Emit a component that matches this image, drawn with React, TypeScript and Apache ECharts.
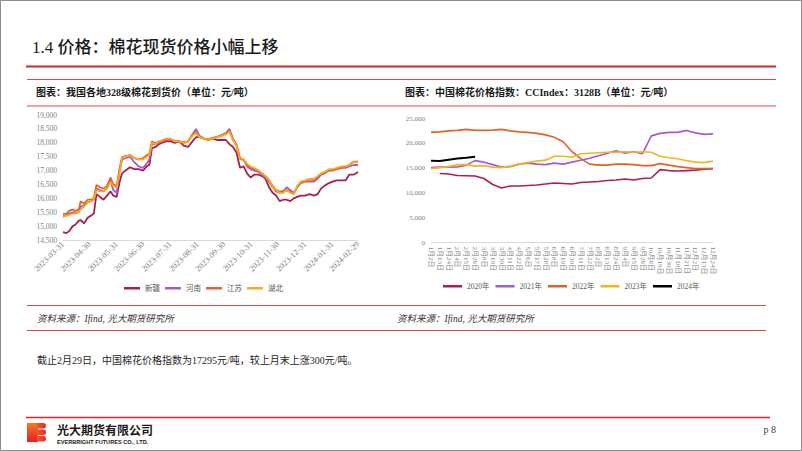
import React, { useEffect, useRef } from "react";
import * as echarts from "echarts";

// ---------- Left chart: 328 grade cotton spot prices (元/吨) ----------
const leftSeriesNames = ["新疆", "河南", "江苏", "湖北"];
const leftAxisStart = "2023-03-31";
const leftAxisEnd = "2024-02-29";
const leftSampleDates = [
  "2023-03-31", "2023-04-04", "2023-04-07", "2023-04-11", "2023-04-14", "2023-04-18", "2023-04-20", "2023-04-24",
  "2023-04-28", "2023-05-02", "2023-05-05", "2023-05-08", "2023-05-12", "2023-05-16", "2023-05-20", "2023-05-24",
  "2023-05-27", "2023-05-31", "2023-06-03", "2023-06-06", "2023-06-10", "2023-06-15", "2023-06-20", "2023-06-25",
  "2023-06-30", "2023-07-04", "2023-07-07", "2023-07-10", "2023-07-14", "2023-07-18", "2023-07-22", "2023-07-26",
  "2023-07-31", "2023-08-05", "2023-08-10", "2023-08-15", "2023-08-20", "2023-08-25", "2023-08-29", "2023-09-02",
  "2023-09-07", "2023-09-12", "2023-09-17", "2023-09-22", "2023-09-27", "2023-10-02", "2023-10-06", "2023-10-10",
  "2023-10-14", "2023-10-18", "2023-10-22", "2023-10-26", "2023-10-30", "2023-11-03", "2023-11-08", "2023-11-12",
  "2023-11-16", "2023-11-20", "2023-11-24", "2023-11-28", "2023-12-02", "2023-12-06", "2023-12-10", "2023-12-14",
  "2023-12-18", "2023-12-22", "2023-12-26", "2023-12-31", "2024-01-05", "2024-01-10", "2024-01-14", "2024-01-18",
  "2024-01-22", "2024-01-27", "2024-01-31", "2024-02-05", "2024-02-10", "2024-02-15", "2024-02-19", "2024-02-24",
  "2024-02-29",
];
const xinjiang = [
  14780, 14750, 14820, 15000, 15050, 15200, 15220, 15100, 15300, 15380, 15450, 16150, 16050, 15950, 16100, 16250,
  16100, 16050, 16550, 16900, 17000, 17120, 17050, 17050, 17000, 17150, 17200, 17800, 17850, 17950, 18000, 18050,
  18050, 18000, 18050, 17900, 17850, 18050, 18200, 18200, 18150, 18100, 18150, 18100, 18100, 18100, 17950, 17850,
  17650, 17100, 17150, 16900, 16750, 16850, 16850, 16800, 16700, 16400, 16200, 16100, 15900, 15950, 15950, 15900,
  16000, 16050, 16100, 16100, 16150, 16100, 16150, 16350, 16450, 16550, 16600, 16650, 16650, 16650, 16850, 16850,
  16950,
];
const henan = [
  15350, 15400, 15450, 15500, 15480, 15500, 15700, 15750, 15850, 15900, 15950, 16350, 16300, 16250, 16350, 16650,
  16300, 16200, 16950, 17400, 17450, 17500, 17300, 17150, 17100, 17250, 17400, 17950, 17950, 18000, 18050, 18100,
  18100, 18050, 18050, 18000, 18050, 18300, 18500, 18250, 18150, 18100, 18150, 18200, 18250, 18350, 18500, 18150,
  17950, 17450, 17400, 17150, 17050, 17000, 16950, 16850, 16750, 16600, 16400, 16250, 16200, 16250, 16400, 16300,
  16200, 16400, 16550, 16600, 16600, 16600, 16700, 16850, 16900, 17000, 17000, 17050, 17100, 17100, 17150, 17200,
  17200,
];
const jiangsu = [
  15430, 15450, 15550, 15600, 15550, 15600, 15900, 15800, 15950, 15950, 16000, 16480, 16400, 16350, 16450, 16750,
  16500, 16450, 17050, 17480, 17520, 17560, 17450, 17400, 17450, 17550, 17600, 18050, 17980, 18050, 18080, 18120,
  18120, 18080, 18050, 18020, 18050, 18300, 18400, 18200, 18150, 18120, 18180, 18220, 18280, 18350, 18420, 18100,
  17900, 17420, 17380, 17200, 17100, 17050, 17000, 16900, 16800, 16650, 16450, 16300, 16250, 16250, 16300, 16250,
  16150, 16420, 16580, 16620, 16680, 16650, 16750, 16880, 16920, 17020, 17020, 17060, 17100, 17150, 17200, 17320,
  17320,
];
const hubei = [
  15330, 15380, 15400, 15450, 15450, 15500, 15600, 15700, 15850, 15900, 15950, 16300, 16250, 16250, 16350, 16600,
  16450, 16400, 16900, 17450, 17500, 17550, 17450, 17400, 17400, 17500, 17550, 18000, 17950, 18050, 18100, 18150,
  18150, 18050, 18050, 18000, 18050, 18250, 18350, 18200, 18150, 18100, 18150, 18200, 18250, 18300, 18400, 18100,
  17900, 17450, 17400, 17250, 17150, 17100, 17000, 16900, 16800, 16650, 16400, 16300, 16200, 16200, 16300, 16200,
  16150, 16450, 16600, 16650, 16700, 16700, 16800, 16900, 16950, 17050, 17050, 17100, 17150, 17150, 17200, 17300,
  17300,
];
const leftYMin = 14500;
const leftYMax = 19000;
const leftYInterval = 500;

// ---------- Right chart: CCIndex 3128B by year (元/吨) ----------
const rightCategories = [
  "1月2日", "1月13日", "1月24日", "2月4日", "2月15日", "2月26日", "3月8日", "3月19日", "3月30日", "4月11日",
  "4月22日", "5月6日", "5月17日", "5月28日", "6月8日", "6月19日", "6月30日", "7月11日", "7月22日", "8月2日",
  "8月13日", "8月24日", "9月4日", "9月15日", "9月26日", "10月8日", "10月19日", "10月30日", "11月10日", "11月21日",
  "12月2日", "12月13日", "12月24日",
];
const rightSeriesNames = ["2020年", "2021年", "2022年", "2023年", "2024年"];
const y2020 = [
  null, 13900, 13800, 13500, 13450, 13400, 12900, 11700, 11000, 11400, 11400, 11500, 11600, 11800, 12000, 11900,
  11800, 12100, 12200, 12300, 12500, 12600, 12800, 12600, 12900, 13000, 14700, 14500, 14400, 14500, 14600, 14800,
  14900,
];
const y2021 = [
  15100, 15200, 15200, 15250, 15600, 16500, 16200, 15700, 15200, 15300, 15800, 16000, 15800, 15700, 16000, 15800,
  16200, 16600, 17000, 17500, 18000, 18500, 18000, 18300, 17900, 21500, 22000, 22200, 22200, 22600, 22100, 21800,
  21900,
];
const y2022 = [
  22200, 22300, 22500, 22600, 22800, 22600, 22600, 22650, 22800, 22500, 22300, 22200, 22000, 21700, 21200, 20300,
  18300, 16900, 15800, 15600, 15600, 15800, 15800, 15700, 15500, 15500, 15900, 15600, 15300, 15100, 14900, 14900,
  14900,
];
const y2023 = [
  14900, 15100, 15300, 15700, 15700, 15400, 15500, 15200, 15100, 15400, 15800, 16100, 16400, 16600, 17400, 17400,
  17200, 17900, 18000, 18100, 18200, 18200, 18300, 18200, 18300, 18200, 17400, 17100, 16900, 16500, 16200, 16100,
  16400,
];
const y2024 = [16500, 16450, 16700, 16950, 17100, 17300];
const rightYMin = 0;
const rightYMax = 25000;
const rightYInterval = 5000;

const leftColors = ["#A81E4E", "#A45BCB", "#E5622A", "#F5AB1F"];
const rightColors = ["#B01E4F", "#A45BCB", "#E2612A", "#F6B321", "#000000"];

const SERIF = "'Liberation Serif', 'Noto Sans CJK SC', serif";
const CJK = "'Noto Sans CJK SC', sans-serif";
const RED = "#D9262C";
const PINK = "#E0474D";

function buildDays(start: string, end: string): string[] {
  const out: string[] = [];
  const d = new Date(start + "T00:00:00Z");
  const e = new Date(end + "T00:00:00Z");
  while (d.getTime() <= e.getTime()) {
    out.push(d.toISOString().slice(0, 10));
    d.setUTCDate(d.getUTCDate() + 1);
  }
  return out;
}

function isMonthEnd(s: string): boolean {
  const d = new Date(s + "T00:00:00Z");
  const n = new Date(d.getTime() + 86400000);
  return n.getUTCDate() === 1;
}

export default function App() {
  const ref = useRef<HTMLDivElement>(null);
  useEffect(() => {
    if (!ref.current) return;
    const chart = echarts.init(ref.current, undefined, { renderer: "svg" });
    const days = buildDays(leftAxisStart, leftAxisEnd);
    const leftData = [xinjiang, henan, jiangsu, hubei];
    const rightData = [y2020, y2021, y2022, y2023, y2024];

    const hline = (x1: number, x2: number, y: number, color: string, w: number) => ({
      type: "line",
      silent: true,
      shape: { x1, y1: y, x2, y2: y },
      style: { stroke: color, lineWidth: w },
    });
    const txt = (x: number, y: number, text: string, o: any) => ({
      type: "text",
      silent: true,
      x,
      y,
      style: { text, textVerticalAlign: "middle", ...o },
    });

    const option: any = {
      animation: false,
      backgroundColor: "#ffffff",
      grid: [
        { left: 63, right: 802 - 358, top: 115, bottom: 451 - 240, containLabel: false, outerBoundsMode: "none" },
        { left: 431, right: 802 - 713, top: 118.5, bottom: 451 - 242.5, containLabel: false, outerBoundsMode: "none" },
      ],
      legend: [
        {
          data: leftSeriesNames,
          left: 124,
          top: 284.5,
          padding: 0,
          icon: "rect",
          itemWidth: 16,
          itemHeight: 2.5,
          itemGap: 5,
          textStyle: { fontSize: 7.5, color: "#595959", fontFamily: SERIF },
        },
        {
          data: rightSeriesNames,
          left: 443,
          top: 282.5,
          padding: 0,
          icon: "rect",
          itemWidth: 19,
          itemHeight: 2.5,
          itemGap: 6,
          textStyle: { fontSize: 7.5, color: "#595959", fontFamily: SERIF },
        },
      ],
      xAxis: [
        {
          type: "category",
          gridIndex: 0,
          data: days,
          boundaryGap: false,
          axisLine: { lineStyle: { color: "#D9D9D9", width: 1 } },
          axisTick: { show: false },
          axisLabel: {
            interval: (_i: number, v: string) => isMonthEnd(v),
            rotate: 45,
            fontSize: 8.3,
            color: "#7F7F7F",
            fontFamily: SERIF,
            margin: 3,
          },
          splitLine: { show: false },
        },
        {
          type: "category",
          gridIndex: 1,
          data: rightCategories,
          boundaryGap: false,
          axisLine: { lineStyle: { color: "#D9D9D9", width: 1 } },
          axisTick: { show: false },
          axisLabel: {
            interval: 0,
            rotate: -90,
            fontSize: 7,
            color: "#7F7F7F",
            fontFamily: SERIF,
            margin: 4,
          },
          splitLine: { show: false },
        },
      ],
      yAxis: [
        {
          type: "value",
          gridIndex: 0,
          min: leftYMin,
          max: leftYMax,
          interval: leftYInterval,
          axisLine: { show: false },
          axisTick: { show: false },
          splitLine: { show: false },
          axisLabel: {
            fontSize: 7.5,
            color: "#7F7F7F",
            fontFamily: SERIF,
            margin: 6,
            formatter: (v: number) => v.toLocaleString("en-US"),
          },
        },
        {
          type: "value",
          gridIndex: 1,
          min: rightYMin,
          max: rightYMax,
          interval: rightYInterval,
          axisLine: { show: false },
          axisTick: { show: false },
          splitLine: { show: false },
          axisLabel: { fontSize: 7, color: "#7F7F7F", fontFamily: SERIF, margin: 6 },
        },
      ],
      series: [
        ...leftSeriesNames.map((name, k) => ({
          name,
          type: "line",
          xAxisIndex: 0,
          yAxisIndex: 0,
          showSymbol: false,
          symbol: "none",
          data: leftSampleDates.map((d, i) => [d, leftData[k][i]]),
          lineStyle: { color: leftColors[k], width: 1.8 },
          itemStyle: { color: leftColors[k] },
        })),
        ...rightSeriesNames.map((name, k) => ({
          name,
          type: "line",
          xAxisIndex: 1,
          yAxisIndex: 1,
          showSymbol: false,
          symbol: "none",
          data: rightData[k],
          lineStyle: { color: rightColors[k], width: k === 4 ? 2 : 1.6 },
          itemStyle: { color: rightColors[k] },
        })),
      ],
      graphic: [
        {
          type: "rect",
          silent: true,
          shape: { x: 0.5, y: 0.5, width: 801, height: 450 },
          style: { fill: "none", stroke: "#8C8C8C", lineWidth: 1 },
        },
        txt(32, 47, "1.4 价格：棉花现货价格小幅上移", {
          fontSize: 17,
          fontFamily: SERIF,
          fill: "#1A1A1A",
          fontWeight: 500,
        }),
        hline(26, 776, 66.5, RED, 2.2),
        hline(27, 776, 79.5, PINK, 1),
        hline(27, 776, 106, PINK, 1),
        txt(36, 92.5, "图表：我国各地328级棉花到货价（单位：元/吨）", {
          fontSize: 10,
          fontFamily: SERIF,
          fontWeight: "bold",
          fill: "#1A1A1A",
        }),
        txt(405, 92.5, "图表：中国棉花价格指数：CCIndex：3128B（单位：元/吨）", {
          fontSize: 10,
          fontFamily: SERIF,
          fontWeight: "bold",
          fill: "#1A1A1A",
        }),
        hline(27, 766, 305.5, PINK, 1),
        hline(27, 766, 330.5, PINK, 1),
        txt(37, 318.5, "资料来源：Ifind, 光大期货研究所", {
          fontSize: 9.5,
          fontFamily: SERIF,
          fontStyle: "italic",
          fill: "#333333",
        }),
        txt(397, 318.5, "资料来源：Ifind, 光大期货研究所", {
          fontSize: 9.5,
          fontFamily: SERIF,
          fontStyle: "italic",
          fill: "#333333",
        }),
        txt(37, 360, "截止2月29日，中国棉花价格指数为17295元/吨，较上月末上涨300元/吨。", {
          fontSize: 10,
          fontFamily: SERIF,
          fill: "#262626",
        }),
        hline(26, 770, 417.5, RED, 1.5),
        {
          type: "rect",
          silent: true,
          shape: { x: 27, y: 423, width: 11, height: 19 },
          style: {
            fill: new echarts.graphic.LinearGradient(0, 0, 0, 1, [
              { offset: 0, color: "#F47B20" },
              { offset: 1, color: "#E41E26" },
            ]),
          },
        },
        ...[423, 429.5, 436].map((yy) => ({
          type: "rect",
          silent: true,
          shape: { x: 37, y: yy, width: 9, height: 5.5, r: [0, 3, 3, 0] },
          style: {
            fill: new echarts.graphic.LinearGradient(0, 0, 1, 0, [
              { offset: 0, color: "#F05A24" },
              { offset: 1, color: "#E8262B" },
            ]),
          },
        })),
        txt(57, 429.5, "光大期货有限公司", {
          fontSize: 12,
          fontFamily: CJK,
          fontWeight: "bold",
          fill: "#231815",
        }),
        txt(57, 441.5, "EVERBRIGHT FUTURES CO., LTD.", {
          fontSize: 5.6,
          fontFamily: "'Liberation Sans', sans-serif",
          fontWeight: "bold",
          fill: "#231815",
        }),
        txt(776, 429, "p 8", {
          fontSize: 10,
          fontFamily: SERIF,
          fill: "#404040",
          align: "right",
        }),
      ],
    };
    chart.setOption(option);
    return () => chart.dispose();
  }, []);
  return (
    <div
      style={{ position: "fixed", left: 0, top: 0, width: 802, height: 451, background: "#fff" }}
    >
      <div ref={ref} style={{ width: 802, height: 451 }} />
    </div>
  );
}
